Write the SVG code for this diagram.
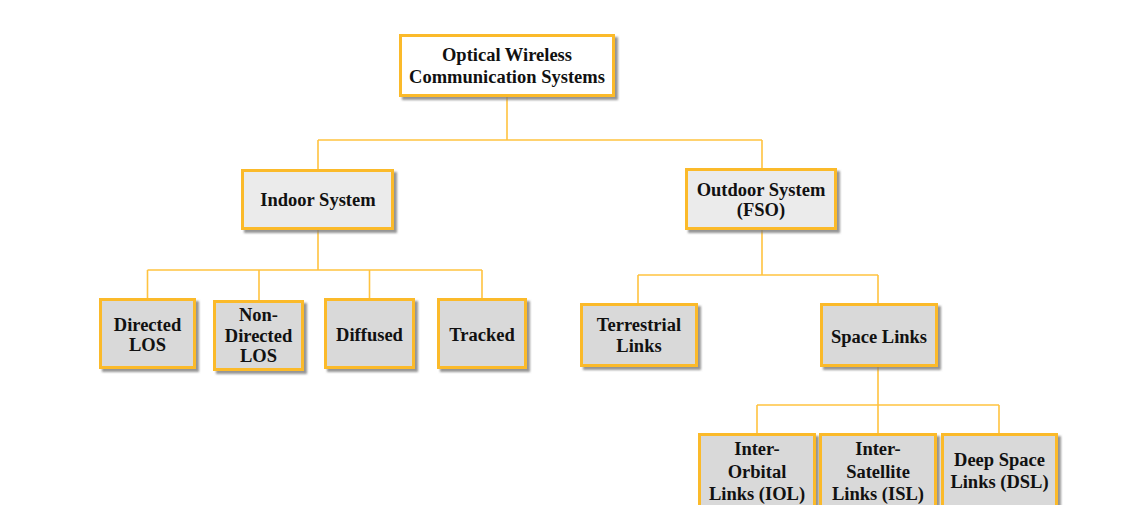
<svg xmlns="http://www.w3.org/2000/svg" width="1143" height="505" viewBox="0 0 1143 505">
<defs>
<filter id="sh" x="-10%" y="-10%" width="130%" height="130%">
<feDropShadow dx="3" dy="3" stdDeviation="1" flood-color="#7a7a7a" flood-opacity="0.8"/>
</filter>
</defs>
<style>
.box{stroke:#FBBA2C;stroke-width:3;filter:url(#sh)}
.top{fill:#ffffff}
.mid{fill:#EBEBEB}
.leaf{fill:#D9D9D9}
.t{font-family:"Liberation Serif","Times New Roman",serif;font-weight:bold;font-size:18.5px;fill:#111;text-anchor:middle}
.c{stroke:#FFC340;stroke-width:1.6;fill:none}
</style>
<rect width="1143" height="505" fill="#ffffff"/>
<g id="connectors">
<path class="c" d="M507,97V140M318,140H762M318,140V169M762,140V168"/>
<path class="c" d="M318,230V270M147.5,270H482M147.5,270V298M259,270V300M369.5,270V298M482,270V298"/>
<path class="c" d="M762,230V275M638,275H878M638,275V303M878,275V303"/>
<path class="c" d="M878,367V405M757,405H999M757,405V433M878,405V433M999,405V433"/>
</g>
<g id="root">
<rect class="box top" x="400.5" y="35.5" width="213" height="60"/>
<text class="t" x="507" y="61">Optical Wireless</text>
<text class="t" x="507" y="83">Communication Systems</text>
</g>
<g id="indoor">
<rect class="box mid" x="242.5" y="170.5" width="150" height="58"/>
<text class="t" x="318" y="206">Indoor System</text>
</g>
<g id="outdoor">
<rect class="box mid" x="686.5" y="169.5" width="149" height="59"/>
<text class="t" x="761" y="196">Outdoor System</text>
<text class="t" x="761" y="216">(FSO)</text>
</g>
<g id="directed">
<rect class="box leaf" x="100.5" y="299.5" width="94" height="68"/>
<text class="t" x="147.5" y="331">Directed</text>
<text class="t" x="147.5" y="351">LOS</text>
</g>
<g id="nondirected">
<rect class="box leaf" x="214.5" y="301.5" width="88" height="68"/>
<text class="t" x="258.5" y="321">Non-</text>
<text class="t" x="258.5" y="342">Directed</text>
<text class="t" x="258.5" y="362">LOS</text>
</g>
<g id="diffused">
<rect class="box leaf" x="325.5" y="299.5" width="88" height="68"/>
<text class="t" x="369.5" y="341">Diffused</text>
</g>
<g id="tracked">
<rect class="box leaf" x="438.5" y="299.5" width="87" height="68"/>
<text class="t" x="482" y="341">Tracked</text>
</g>
<g id="terrestrial">
<rect class="box leaf" x="581.5" y="304.5" width="115" height="61"/>
<text class="t" x="639" y="331">Terrestrial</text>
<text class="t" x="639" y="352">Links</text>
</g>
<g id="space">
<rect class="box leaf" x="821.5" y="304.5" width="115" height="61"/>
<text class="t" x="879" y="343">Space Links</text>
</g>
<g id="iol">
<rect class="box leaf" x="699.5" y="434.5" width="115" height="80"/>
<text class="t" x="757" y="455">Inter-</text>
<text class="t" x="757" y="478">Orbital</text>
<text class="t" x="757" y="500">Links (IOL)</text>
</g>
<g id="isl">
<rect class="box leaf" x="820.5" y="434.5" width="115" height="80"/>
<text class="t" x="878" y="455">Inter-</text>
<text class="t" x="878" y="478">Satellite</text>
<text class="t" x="878" y="500">Links (ISL)</text>
</g>
<g id="dsl">
<rect class="box leaf" x="942.5" y="434.5" width="114" height="80"/>
<text class="t" x="999.5" y="466">Deep Space</text>
<text class="t" x="999.5" y="488">Links (DSL)</text>
</g>
</svg>
